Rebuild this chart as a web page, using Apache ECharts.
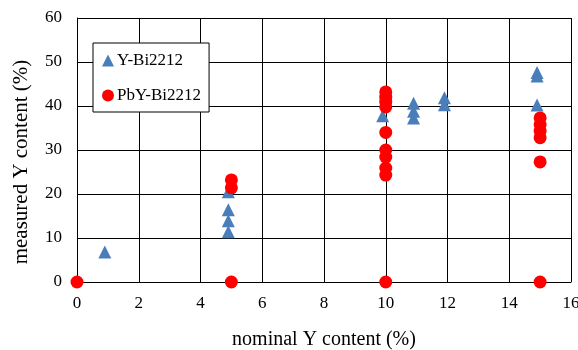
<!DOCTYPE html>
<html lang="en">
<head>
  <meta charset="UTF-8">
  <title>measured vs nominal Y content</title>
  <script src="https://cdn.jsdelivr.net/npm/echarts@6/dist/echarts.min.js"></script>
  <style>
    html, body { margin: 0; padding: 0; background: #fff; }
  </style>
</head>
<body>
  <div id="chart" style="width:578px;height:350px"></div>
  <script>
    // Y-Bi2212 (triangles): [nominal, measured]
    var yBi2212 = [
      [0.9, 6.8],
      [4.9, 11.4], [4.9, 13.9], [4.9, 16.4], [4.9, 20.5],
      [9.9, 37.8],
      [10.9, 37.3], [10.9, 38.8], [10.9, 40.6],
      [11.9, 40.3], [11.9, 41.9],
      [14.9, 40.2], [14.9, 46.8], [14.9, 47.6]
    ]
    // PbY-Bi2212 (circles)
    var pbyBi2212 = [
      [0, 0],
      [5, 0], [5, 21.4], [5, 23.2],
      [10, 0], [10, 24.3], [10, 25.9], [10, 28.4], [10, 30], [10, 34],
      [10, 39.8], [10, 40.9], [10, 42], [10, 43.2],
      [15, 0], [15, 27.3], [15, 32.8], [15, 34.3], [15, 35.8], [15, 37.3]
    ]
    var xTicks = { min: 0, max: 16, step: 2 }
    var yTicks = { min: 0, max: 60, step: 10 }

    var font = 'Liberation Serif'
    var mCharts = echarts.init(document.getElementById('chart'))
    var option = {
      animation: false,
      backgroundColor: '#fff',
      grid: { left: 77, right: 7, top: 18, bottom: 68, outerBoundsMode: 'none', containLabel: false },
      legend: {
        left: 93, top: 43,
        orient: 'vertical',
        backgroundColor: '#fff',
        borderColor: '#000',
        borderWidth: 1,
        padding: [9, 8, 8, 9],
        itemGap: 18,
        itemWidth: 12, itemHeight: 12,
        textStyle: { fontFamily: font, fontSize: 17, color: '#000', padding: [0, 0, 0, -2] },
        data: [
          { name: 'Y-Bi2212', icon: 'triangle' },
          { name: 'PbY-Bi2212', icon: 'circle' }
        ]
      },
      xAxis: {
        type: 'value',
        min: xTicks.min, max: xTicks.max, interval: xTicks.step,
        name: 'nominal Y content (%)',
        nameLocation: 'middle',
        nameGap: 48,
        nameTextStyle: { fontFamily: font, fontSize: 20, color: '#000' },
        axisLine: { show: true, lineStyle: { color: '#000', width: 1 } },
        axisTick: { show: false },
        axisLabel: { fontFamily: font, fontSize: 17, color: '#000', margin: 13 },
        splitLine: { show: true, lineStyle: { color: '#000', width: 1 } }
      },
      yAxis: {
        type: 'value',
        min: yTicks.min, max: yTicks.max, interval: yTicks.step,
        name: 'measured Y content (%)',
        nameLocation: 'middle',
        nameGap: 45,
        nameTextStyle: { fontFamily: font, fontSize: 21, color: '#000', padding: [0, 24, 0, 0] },
        axisLine: { show: true, lineStyle: { color: '#000', width: 1 } },
        axisTick: { show: false },
        axisLabel: { fontFamily: font, fontSize: 17, color: '#000', margin: 15 },
        splitLine: { show: true, lineStyle: { color: '#000', width: 1 } }
      },
      series: [
        {
          name: 'Y-Bi2212',
          type: 'scatter',
          symbol: 'triangle',
          symbolSize: 13,
          itemStyle: { color: '#4a7ebb', opacity: 1 },
          data: yBi2212,
          z: 3
        },
        {
          name: 'PbY-Bi2212',
          type: 'scatter',
          symbol: 'circle',
          symbolSize: 13,
          itemStyle: { color: '#ff0000', opacity: 1 },
          data: pbyBi2212,
          z: 4
        }
      ]
    }
    mCharts.setOption(option)
  </script>
</body>
</html>
